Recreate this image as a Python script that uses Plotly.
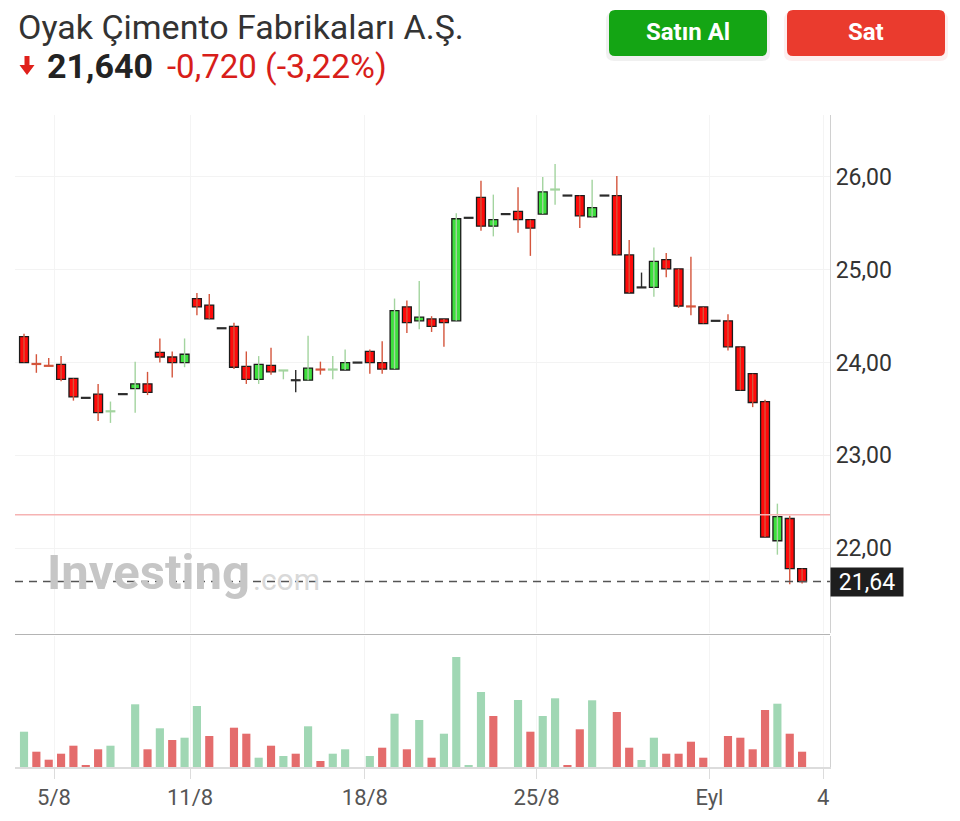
import plotly.graph_objects as go

# ---------------- data ----------------
opens = [24.28, 23.99, 23.97, 23.98, 23.83, 23.62, 23.66, 23.47, 23.66, 23.72,
         23.77, 24.11, 24.06, 24.00, 24.69, 24.62, 24.37, 24.39, 23.96, 23.82,
         23.97, 23.91, 23.81, 23.81, 23.93, 23.92, 23.92, 24.00, 24.12, 24.00,
         23.93, 24.60, 24.45, 24.47, 24.47, 24.45, 25.56, 25.78, 25.47, 25.60,
         25.63, 25.54, 25.60, 25.86, 25.80, 25.80, 25.57, 25.80, 25.80, 25.16,
         24.81, 24.81, 25.11, 25.01, 24.61, 24.60, 24.45, 24.45, 24.17, 23.88,
         23.58, 22.08, 22.32, 21.78]
highs = [24.31, 24.09, 24.05, 24.07, 23.83, 23.62, 23.77, 23.58, 23.66, 24.01,
         23.90, 24.26, 24.12, 24.26, 24.75, 24.74, 24.37, 24.43, 24.12, 24.07,
         24.16, 23.92, 23.92, 24.29, 24.01, 24.07, 24.14, 24.00, 24.14, 24.23,
         24.69, 24.67, 24.88, 24.50, 24.47, 25.61, 25.56, 25.96, 25.81, 25.60,
         25.89, 25.54, 26.00, 26.14, 25.80, 25.80, 25.97, 25.80, 26.01, 25.32,
         24.97, 25.24, 25.18, 25.01, 25.14, 24.60, 24.45, 24.52, 24.17, 23.88,
         23.60, 22.48, 22.35, 21.78]
lows = [24.00, 23.89, 23.96, 23.80, 23.59, 23.62, 23.37, 23.35, 23.66, 23.46,
        23.65, 24.00, 23.84, 23.95, 24.51, 24.47, 24.37, 23.93, 23.77, 23.77,
        23.87, 23.82, 23.68, 23.81, 23.87, 23.82, 23.92, 24.00, 23.88, 23.88,
        23.93, 24.32, 24.36, 24.33, 24.17, 24.45, 25.56, 25.42, 25.36, 25.60,
        25.40, 25.15, 25.60, 25.70, 25.80, 25.45, 25.57, 25.80, 25.16, 24.75,
        24.81, 24.71, 24.92, 24.59, 24.51, 24.42, 24.45, 24.13, 23.70, 23.52,
        22.12, 21.93, 21.61, 21.62]
closes = [24.00, 23.98, 23.96, 23.82, 23.63, 23.62, 23.46, 23.48, 23.66, 23.77,
          23.68, 24.06, 24.00, 24.09, 24.60, 24.47, 24.37, 23.95, 23.82, 23.98,
          23.90, 23.92, 23.81, 23.94, 23.92, 23.93, 24.00, 24.00, 24.00, 23.93,
          24.56, 24.43, 24.49, 24.39, 24.43, 25.55, 25.56, 25.47, 25.54, 25.60,
          25.54, 25.45, 25.84, 25.87, 25.80, 25.58, 25.67, 25.80, 25.16, 24.75,
          24.81, 25.09, 25.01, 24.61, 24.60, 24.42, 24.45, 24.17, 23.70, 23.57,
          22.12, 22.34, 21.78, 21.64]
# volume (thousand lots) and its colour (g = close above previous close)
volumes = [353, 153, 73, 133, 213, 20, 177, 213, 0, 627,
           177, 387, 270, 293, 610, 310, 0, 393, 333, 93,
           213, 110, 133, 407, 60, 133, 177, 0, 110, 193,
           533, 177, 470, 93, 333, 1100, 20, 750, 510, 0,
           670, 353, 510, 687, 20, 377, 667, 0, 550, 193,
           70, 293, 133, 133, 253, 93, 0, 310, 293, 177,
           570, 633, 333, 153]
vol_dir = "gddddddgggdgdggdgddgdgdgdggggdgdgdggggdggdggddggddggddddgddddgdd"
tick_pos = [2.43, 13.44, 27.6, 41.5, 55.5, 64.7]
tick_text = ["5/8", "11/8", "18/8", "25/8", "Eyl", "4"]
price_ticks = [22, 23, 24, 25, 26]
last_price = 21.64
prev_close = 22.36

# ---------------- geometry helpers ----------------
# the page body adds an 8px offset; all pixel positions below are reference-screen pixels
OFF = 8
W, H = 952, 813
PLOT_L, PLOT_R, PLOT_T, PLOT_B = 15, 830, 115, 767  # reference pixels
ML = PLOT_L - OFF
MT = PLOT_T - OFF
MR = W - (PLOT_R - OFF)
MB = H - (PLOT_B - OFF)
PW = PLOT_R - PLOT_L
PH = PLOT_B - PLOT_T


def px(x):
    return (x - PLOT_L) / PW


def py(y):
    return (PLOT_B - y) / PH


def rounded_rect(x0, y0, x1, y1, r):
    pts = [
        f"M {px(x0 + r)},{py(y0)}",
        f"L {px(x1 - r)},{py(y0)}",
        f"Q {px(x1)},{py(y0)} {px(x1)},{py(y0 + r)}",
        f"L {px(x1)},{py(y1 - r)}",
        f"Q {px(x1)},{py(y1)} {px(x1 - r)},{py(y1)}",
        f"L {px(x0 + r)},{py(y1)}",
        f"Q {px(x0)},{py(y1)} {px(x0)},{py(y1 - r)}",
        f"L {px(x0)},{py(y0 + r)}",
        f"Q {px(x0)},{py(y0)} {px(x0 + r)},{py(y0)} Z",
    ]
    return " ".join(pts)


# ---------------- colours ----------------
BODY_UP, BODY_DN = "#3ddf3d", "#ff0a0a"
WICK_UP, WICK_DN, FLAT = "#a3d49f", "#d4553c", "#2b2b2b"
VOL_UP, VOL_DN = "#a0d7b4", "#e46c6c"

n = len(opens)
idx = list(range(n))


def direction(i):
    if closes[i] > opens[i]:
        return "u"
    if closes[i] < opens[i]:
        return "d"
    return "f"


wick_col = {"u": WICK_UP, "d": WICK_DN, "f": FLAT}
body_col = {"u": BODY_UP, "d": BODY_DN}

fig = go.Figure()

# wicks
for d in ["u", "d", "f"]:
    xs, ys = [], []
    for i in idx:
        if direction(i) == d and highs[i] > lows[i]:
            xs += [i, i, None]
            ys += [lows[i], highs[i], None]
    fig.add_trace(go.Scatter(x=xs, y=ys, mode="lines",
                             line=dict(color=wick_col[d], width=1.4),
                             hoverinfo="skip", showlegend=False))

# bodies
bx, bb, bh, bc = [], [], [], []
for i in idx:
    if abs(closes[i] - opens[i]) >= 0.015:
        bx.append(i)
        bb.append(min(opens[i], closes[i]))
        bh.append(abs(closes[i] - opens[i]))
        bc.append(body_col[direction(i)])
fig.add_trace(go.Bar(x=bx, y=bh, base=bb, width=0.72,
                     marker=dict(color=bc, line=dict(color="#1c1c1c", width=1.3)),
                     showlegend=False, hoverinfo="skip"))

# doji / flat marks
dx, dy, dc = [], [], []
for i in idx:
    if abs(closes[i] - opens[i]) < 0.015:
        dx.append(i)
        dy.append((opens[i] + closes[i]) / 2)
        dc.append(wick_col[direction(i)])
fig.add_trace(go.Scatter(x=dx, y=dy, mode="markers",
                         marker=dict(symbol="line-ew", size=7,
                                     line=dict(color=dc, width=2.2)),
                         showlegend=False, hoverinfo="skip"))

# volume
fig.add_trace(go.Bar(x=idx, y=volumes, yaxis="y2", width=0.66,
                     marker=dict(color=[VOL_UP if c == "g" else VOL_DN for c in vol_dir],
                                 line=dict(width=0)),
                     showlegend=False, hoverinfo="skip"))

shapes = [
    # pane separator
    dict(type="line", xref="paper", yref="paper", x0=0, x1=1,
         y0=py(634.5), y1=py(634.5), line=dict(color="#b4b4b4", width=1.2)),
    # previous close line
    dict(type="line", xref="paper", yref="y", x0=0, x1=1,
         y0=prev_close, y1=prev_close, line=dict(color="#f6b3b3", width=1.5)),
    # last price dashed line
    dict(type="line", xref="paper", yref="y", x0=0, x1=1,
         y0=last_price, y1=last_price, line=dict(color="#555555", width=1.5, dash="8px,6px")),
    # button shadows
    dict(type="path", xref="paper", yref="paper", path=rounded_rect(606, 12, 770, 61, 8),
         fillcolor="rgba(0,0,0,0.06)", line=dict(width=0)),
    dict(type="path", xref="paper", yref="paper", path=rounded_rect(784, 12, 948, 61, 8),
         fillcolor="rgba(230,40,40,0.08)", line=dict(width=0)),
    # buttons
    dict(type="path", xref="paper", yref="paper", path=rounded_rect(609, 10, 767, 56, 6),
         fillcolor="#14a514", line=dict(width=0)),
    dict(type="path", xref="paper", yref="paper", path=rounded_rect(787, 10, 945, 56, 6),
         fillcolor="#ea3b2e", line=dict(width=0)),
    # red down arrow
    dict(type="path", xref="paper", yref="paper",
         path=(f"M {px(24.5)},{py(56)} L {px(29.5)},{py(56)} L {px(29.5)},{py(65)} "
               f"L {px(34.5)},{py(65)} L {px(27)},{py(75)} L {px(19.5)},{py(65)} "
               f"L {px(24.5)},{py(65)} Z"),
         fillcolor="#e0201b", line=dict(width=0)),
]

FONT = "Roboto"
annotations = [
    dict(xref="paper", yref="paper", x=px(16), y=py(27), xanchor="left", yanchor="middle",
         text="Oyak Çimento Fabrikaları A.Ş.", showarrow=False,
         font=dict(family=FONT, size=34, color="#333333")),
    dict(xref="paper", yref="paper", x=px(45), y=py(66), xanchor="left", yanchor="middle",
         text="<b>21,640</b>", showarrow=False,
         font=dict(family=FONT, size=34, color="#232323")),
    dict(xref="paper", yref="paper", x=px(165), y=py(66), xanchor="left", yanchor="middle",
         text="-0,720", showarrow=False,
         font=dict(family=FONT, size=33, color="#d81e1a")),
    dict(xref="paper", yref="paper", x=px(263), y=py(66), xanchor="left", yanchor="middle",
         text="(-3,22%)", showarrow=False,
         font=dict(family=FONT, size=34, color="#d81e1a")),
    dict(xref="paper", yref="paper", x=px(688), y=py(32), xanchor="center", yanchor="middle",
         text="<b>Satın Al</b>", showarrow=False,
         font=dict(family=FONT, size=24, color="white")),
    dict(xref="paper", yref="paper", x=px(866), y=py(32), xanchor="center", yanchor="middle",
         text="<b>Sat</b>", showarrow=False,
         font=dict(family=FONT, size=24, color="white")),
    # watermark
    dict(xref="paper", yref="paper", x=px(45), y=py(572), xanchor="left", yanchor="middle",
         text="<b>Investing</b>", showarrow=False,
         font=dict(family=FONT, size=49, color="#c6c6c6")),
    dict(xref="paper", yref="paper", x=px(251), y=py(579), xanchor="left", yanchor="middle",
         text=".com", showarrow=False,
         font=dict(family=FONT, size=30, color="#d9d9d9")),
    # last price label
    dict(xref="paper", yref="y", x=1, y=last_price, xanchor="left", yanchor="middle",
         text="21,64", showarrow=False, bgcolor="#1e1e1e", borderpad=3,
         width=66, height=22,
         font=dict(family=FONT, size=23, color="white")),
]

fig.update_layout(
    width=W, height=H,
    margin=dict(l=ML, r=MR, t=MT, b=MB),
    paper_bgcolor="white", plot_bgcolor="white",
    separators=",.",
    barmode="overlay",
    showlegend=False,
    xaxis=dict(range=[-0.73, 65.26], tickvals=tick_pos, ticktext=tick_text,
               showgrid=True, gridcolor="#f4f4f4", gridwidth=1, zeroline=False,
               ticks="outside", ticklen=10, tickcolor="#dcdcdc",
               showline=True, linecolor="#dcdcdc", linewidth=1.5,
               tickfont=dict(family=FONT, size=22, color="#555555"),
               anchor="y2", fixedrange=True),
    yaxis=dict(domain=[py(633), 1], range=[21.086, 26.668], side="right",
               tickvals=price_ticks, tickformat=".2f",
               showgrid=True, gridcolor="#f3f3f3", zeroline=False,
               showline=True, linecolor="#d0d0d0", linewidth=1.2,
               ticks="", tickfont=dict(family=FONT, size=23, color="#333333"),
               anchor="x"),
    yaxis2=dict(domain=[0, py(636)], range=[0, 1310], side="right",
                showticklabels=False, showgrid=False, zeroline=False,
                showline=True, linecolor="#d0d0d0", linewidth=1.2, anchor="x"),
    shapes=shapes,
    annotations=annotations,
)

fig.write_html("out.html")
